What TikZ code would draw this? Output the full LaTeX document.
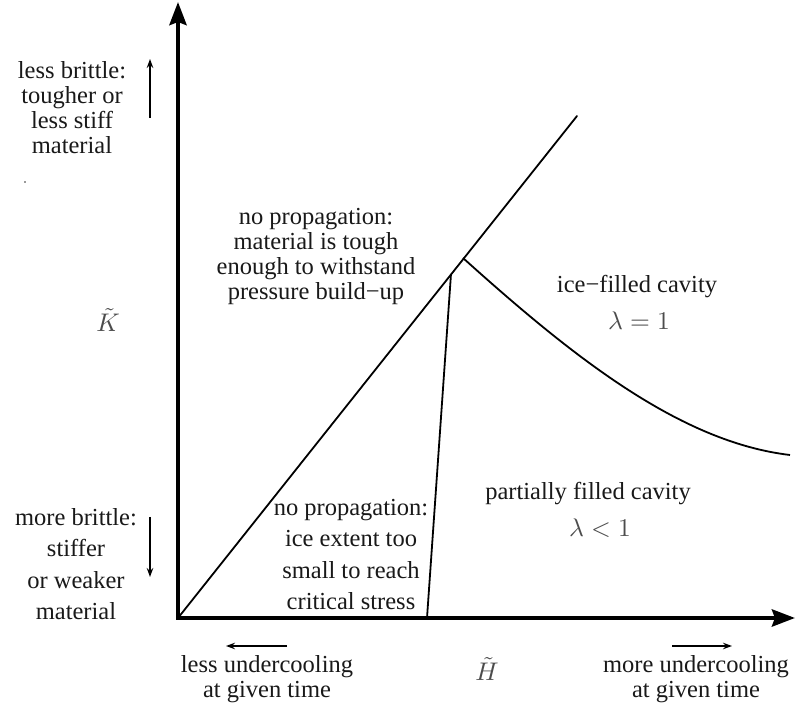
\documentclass[tikz,border=0pt]{standalone}
\usepackage{fontspec}
\setmainfont{Liberation Serif}
\usetikzlibrary{arrows.meta}
\newcommand{\bigmath}[1]{\scalebox{2.55}{$#1$}}
\begin{document}
\begin{tikzpicture}[x=1pt,y=1pt,
  axis/.style={line width=4.3pt,-{Stealth[length=23pt,width=17pt,inset=3pt]}},
  curveline/.style={line width=1.8pt},
  smallarrow/.style={line width=1.3pt,-{Stealth[length=9pt,width=6.5pt]}},
  lbl/.style={inner sep=0pt,align=center,text=black!90,font=\fontsize{24.5}{25}\selectfont},
  lblwide/.style={inner sep=0pt,align=center,text=black!90,font=\fontsize{24.5}{31.5}\selectfont},
  mathlbl/.style={inner sep=0pt,text=black!70,font=\normalsize}]
\useasboundingbox (0,0) rectangle (796,709);
% key points
\coordinate (O) at (178,91);
\coordinate (Ytip) at (178,707);
\coordinate (Xtip) at (795,91);
\coordinate (D) at (577,593);
\coordinate (Kink) at (463,451);
\coordinate (P) at (451,435);
\coordinate (Q) at (427,91);
\coordinate (E) at (790,254);
% regions
\draw[curveline,line cap=round] (O) -- (D);
\draw[curveline] (P) -- (Q);
\draw[curveline] (Kink) .. controls (573,352) and (680,267) .. (E);
% axes
\draw[axis] ([yshift=-2pt]O) -- (Ytip);
\draw[axis] ([xshift=-2pt]O) -- (Xtip);
% small arrows
\coordinate (ua1) at (150,591); \coordinate (ua2) at (150,650);
\coordinate (da1) at (150,192); \coordinate (da2) at (150,132);
\coordinate (la1) at (287,63); \coordinate (la2) at (226,63);
\coordinate (ra1) at (672,63); \coordinate (ra2) at (732,63);
\draw[smallarrow] (ua1) -- (ua2);
\draw[smallarrow] (da1) -- (da2);
\draw[smallarrow] (la1) -- (la2);
\draw[smallarrow] (ra1) -- (ra2);
% stray dot
\fill[black!80] (25,527) circle (0.8pt);
% labels (anchor base = baseline of the last line)
\node[lbl,anchor=base] (tl) at (72,555) {less brittle:\\tougher or\\less stiff\\material};
\node[lblwide,anchor=base] (bl) at (76,89) {more brittle:\\stiffer\\or weaker\\material};
\node[lbl,anchor=base] (um) at (316,409) {no propagation:\\material is tough\\enough to withstand\\pressure build−up};
\node[lblwide,anchor=base] (lm) at (351,99) {no propagation:\\ice extent too\\small to reach\\critical stress};
\node[lbl,anchor=base] (ic) at (637,416) {ice−filled cavity};
\node[mathlbl,anchor=base] (l1) at (639,379) {\bigmath{\lambda = 1}};
\node[lbl,anchor=base] (pf) at (588,209) {partially filled cavity};
\node[mathlbl,anchor=base] (l2) at (600,172) {\bigmath{\lambda < 1}};
\node[mathlbl] (K) at (108,389) {\bigmath{\tilde{K}}};
\node[mathlbl] (H) at (487,40) {\bigmath{\tilde{H}}};
\node[lbl,anchor=base] (lu) at (267,11) {less undercooling\\at given time};
\node[lbl,anchor=base] (mu) at (696,11) {more undercooling\\at given time};
\end{tikzpicture}
\end{document}
